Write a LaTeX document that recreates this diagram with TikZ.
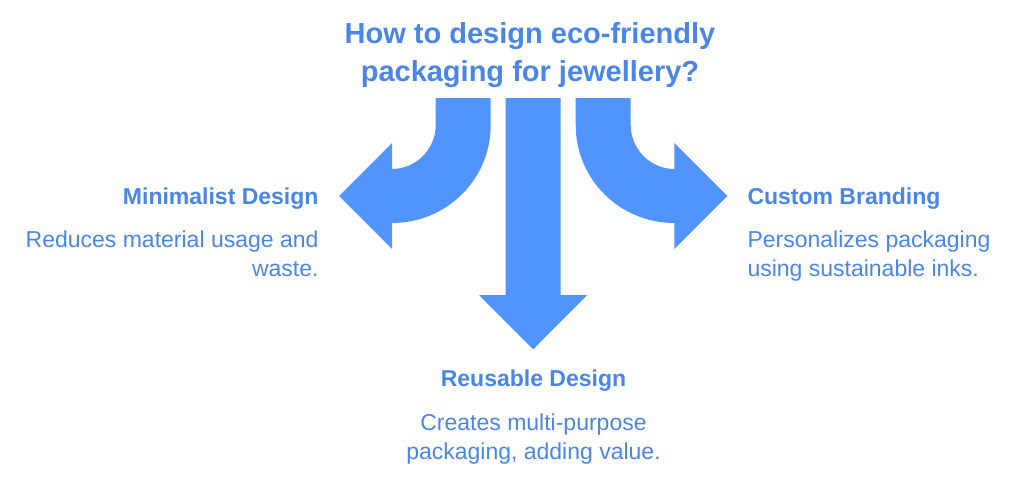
\documentclass[tikz,border=0pt]{standalone}
\usepackage{fontspec}
\setmainfont{Liberation Sans}

\definecolor{arrowblue}{HTML}{5193FF}
\definecolor{textblue}{HTML}{4A86E8}

\tikzset{every picture/.style={line width=0.75pt}}
\tikzset{
  bigarrow/.style={fill=arrowblue, draw=none},
  titletext/.style={text=textblue, font=\fontsize{21.75}{28.5}\selectfont\bfseries, align=center, inner sep=0.75pt},
  headtext/.style={text=textblue, font=\fontsize{17.25}{21.75}\selectfont\bfseries, inner sep=0.75pt},
  bodytext/.style={text=textblue, font=\fontsize{17.25}{21.75}\selectfont, inner sep=0.75pt}
}

\begin{document}
\begin{tikzpicture}[x=0.75pt,y=0.75pt,yscale=-1,xscale=1]
\useasboundingbox (0,0) rectangle (1024,478);

%Shape: Left curved arrow
\draw [bigarrow] (435.7,98) -- (435.7,125) .. controls (435.7,149.1) and (416.1,169) .. (392,169) -- (392,143) -- (339,196) -- (392,249) -- (392,223) .. controls (446.5,223) and (490.7,179.5) .. (490.7,125) -- (490.7,98) -- cycle ;
%Shape: Right curved arrow
\draw [bigarrow] (630.7,98) -- (630.7,125) .. controls (630.7,149.1) and (650.3,169) .. (674.4,169) -- (674.4,143) -- (727.4,196) -- (674.4,249) -- (674.4,223) .. controls (619.9,223) and (575.7,179.5) .. (575.7,125) -- (575.7,98) -- cycle ;
%Shape: Down arrow
\draw [bigarrow] (505.7,98) -- (560.7,98) -- (560.7,295) -- (587.4,295) -- (533.2,349.3) -- (479,295) -- (505.7,295) -- cycle ;

% title
\draw (530,21) node (title) [anchor=north][titletext] {How to design eco-friendly\\packaging for jewellery?};

% left
\draw (320,204.3) node (minhead) [anchor=base east][headtext] {Minimalist Design};
\draw (320,229.5) node (minbody) [anchor=north east][bodytext, align=right] {Reduces material usage and\\waste.};

% right
\draw (746,204.3) node (cushead) [anchor=base west][headtext] {Custom Branding};
\draw (746,229.5) node (cusbody) [anchor=north west][bodytext, align=left] {Personalizes packaging\\using sustainable inks.};

% bottom
\draw (533.5,386.5) node (reuhead) [anchor=base][headtext] {Reusable Design};
\draw (533.5,412) node (reubody) [anchor=north][bodytext, align=center] {Creates multi-purpose\\packaging, adding value.};

\end{tikzpicture}
\end{document}
